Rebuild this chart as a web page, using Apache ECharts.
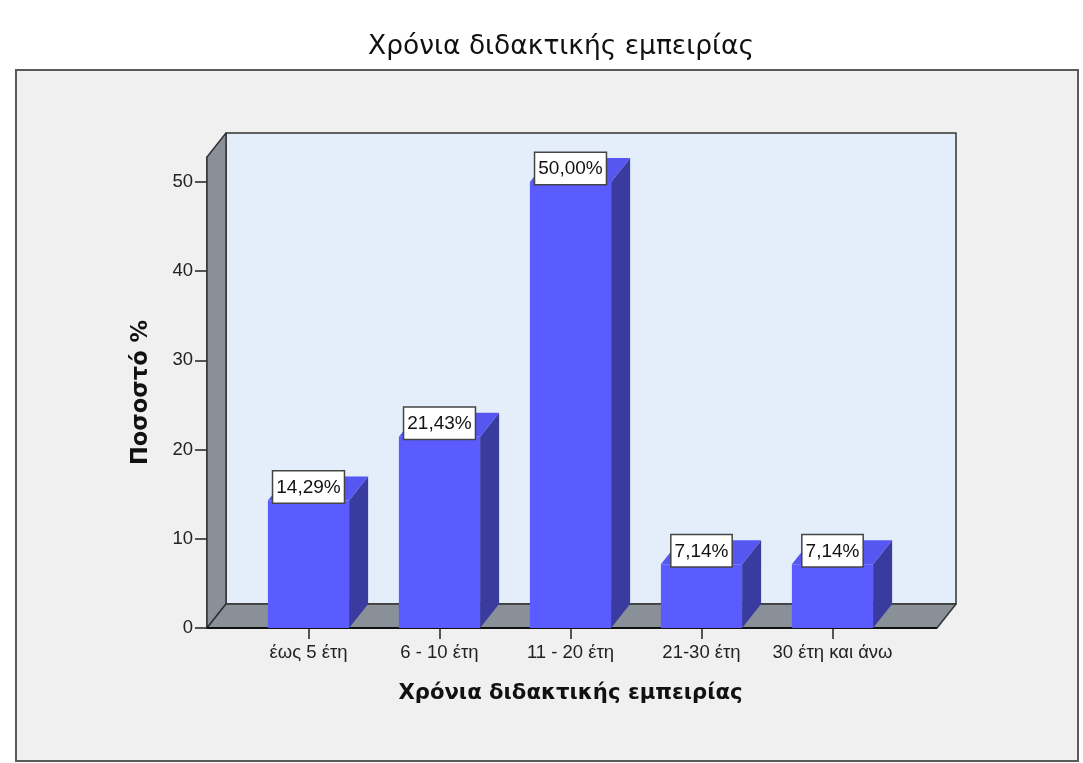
<!DOCTYPE html>
<html>
<head>
<meta charset="utf-8">
<title>Χρόνια διδακτικής εμπειρίας</title>
<script src="https://cdn.jsdelivr.net/npm/echarts@6/dist/echarts.min.js"></script>
<style>
  html, body { margin: 0; padding: 0; background: #f3f3f3; }
  #chart { width: 1083px; height: 763px; }
</style>
</head>
<body>
<div id="chart"></div>
<script>
// data
var categories = ['έως 5 έτη', '6 - 10 έτη', '11 - 20 έτη', '21-30 έτη', '30 έτη και άνω']
var percentages = [14.29, 21.43, 50.00, 7.14, 7.14]
var yTicks = [0, 10, 20, 30, 40, 50]

var FONT = '"Liberation Sans", Arial, sans-serif'
var TITLE_FONT = '"DejaVu Sans", Verdana, sans-serif'
// 3d depth of the box and the bars
var DX = 19
var DY = 24
// floor sticks out past the category bands
var PAD_L = 36
var PAD_R = 39

function fmt(v) {
  return v.toFixed(2).replace('.', ',') + '%'
}

function renderBox(params, api) {
  var cs = params.coordSys
  var L = cs.x - PAD_L
  var R = cs.x + cs.width + PAD_R
  var T = cs.y
  var B = cs.y + cs.height
  var edge = { stroke: '#333', lineWidth: 1.5, lineJoin: 'round' }
  return {
    type: 'group',
    silent: true,
    children: [
      {
        type: 'rect',
        shape: { x: L + DX, y: T - DY, width: R - L, height: B - T },
        style: Object.assign({ fill: '#e3eefa' }, edge)
      },
      {
        type: 'polygon',
        shape: { points: [[L, T], [L + DX, T - DY], [L + DX, B - DY], [L, B]] },
        style: Object.assign({ fill: '#8a9098' }, edge)
      },
      {
        type: 'polygon',
        shape: { points: [[L, B], [L + DX, B - DY], [R + DX, B - DY], [R, B]] },
        style: Object.assign({ fill: '#8a9098' }, edge)
      },
      {
        type: 'line',
        shape: { x1: L, y1: B, x2: R, y2: B },
        style: { stroke: '#111', lineWidth: 2 }
      }
    ]
  }
}

function renderBar(params, api) {
  var base = api.coord([api.value(0), 0])
  var top = api.coord([api.value(0), api.value(1)])
  var bw = api.size([1, 0])[0] * 0.62
  var x = base[0] - bw / 2
  var yt = top[1]
  var yb = base[1]
  return {
    type: 'group',
    children: [
      {
        type: 'rect',
        shape: { x: x, y: yt, width: bw, height: yb - yt },
        style: { fill: '#5b5cff' }
      },
      {
        type: 'polygon',
        shape: { points: [[x + bw, yt], [x + bw + DX, yt - DY], [x + bw + DX, yb - DY], [x + bw, yb]] },
        style: { fill: '#3a3b9f' }
      },
      {
        type: 'polygon',
        shape: { points: [[x, yt], [x + DX, yt - DY], [x + bw + DX, yt - DY], [x + bw, yt]] },
        style: { fill: '#5557f0' }
      },
      {
        type: 'text',
        x: base[0],
        y: yt + 2,
        style: {
          text: fmt(api.value(1)),
          align: 'center',
          verticalAlign: 'bottom',
          fontFamily: FONT,
          fontSize: 19,
          lineHeight: 22,
          fill: '#111',
          backgroundColor: '#fff',
          borderColor: '#444',
          borderWidth: 1.5,
          padding: [5, 3, 4, 3]
        }
      }
    ]
  }
}

var chart = echarts.init(document.getElementById('chart'))

chart.setOption({
  backgroundColor: '#ffffff',
  animation: false,
  title: {
    text: 'Χρόνια διδακτικής εμπειρίας',
    left: 556,
    top: 29,
    textAlign: 'center',
    textStyle: { fontFamily: TITLE_FONT, fontSize: 26.5, fontWeight: 'normal', color: '#111' }
  },
  graphic: [
    {
      type: 'rect',
      z: -10,
      shape: { x: 16, y: 70, width: 1062, height: 691 },
      style: { fill: '#f0f0f0', stroke: '#5a5a5a', lineWidth: 2 }
    }
  ],
  grid: { left: 243, right: 185, top: 157, bottom: 135 },
  xAxis: {
    type: 'category',
    data: categories,
    name: 'Χρόνια διδακτικής εμπειρίας',
    nameLocation: 'middle',
    nameGap: 55,
    nameTextStyle: { fontFamily: TITLE_FONT, fontSize: 21.2, fontWeight: 'bold', color: '#111' },
    axisLine: { show: false },
    axisTick: { show: true, alignWithLabel: true, length: 11, lineStyle: { color: '#222', width: 1.5 } },
    axisLabel: { interval: 0, margin: 15, fontFamily: FONT, fontSize: 18.5, color: '#222' },
    splitLine: { show: false }
  },
  yAxis: {
    type: 'value',
    min: 0,
    max: 52.8,
    offset: 36,
    name: 'Ποσοστό %',
    nameLocation: 'middle',
    nameRotate: 90,
    nameGap: 54,
    nameTextStyle: { fontFamily: TITLE_FONT, fontSize: 22.5, fontWeight: 'bold', color: '#111' },
    axisLine: { show: true, lineStyle: { color: '#222', width: 1.5 } },
    axisTick: { show: true, length: 12, customValues: yTicks, lineStyle: { color: '#222', width: 1.5 } },
    axisLabel: { margin: 14, customValues: yTicks, fontFamily: FONT, fontSize: 18.5, color: '#222' },
    splitLine: { show: false }
  },
  series: [
    {
      type: 'custom',
      name: 'box',
      silent: true,
      z: 1,
      renderItem: renderBox,
      data: [[0, 0]]
    },
    {
      type: 'custom',
      name: 'Ποσοστό',
      z: 3,
      renderItem: renderBar,
      data: percentages.map(function (v, i) { return [i, v] })
    }
  ]
})
</script>
</body>
</html>
